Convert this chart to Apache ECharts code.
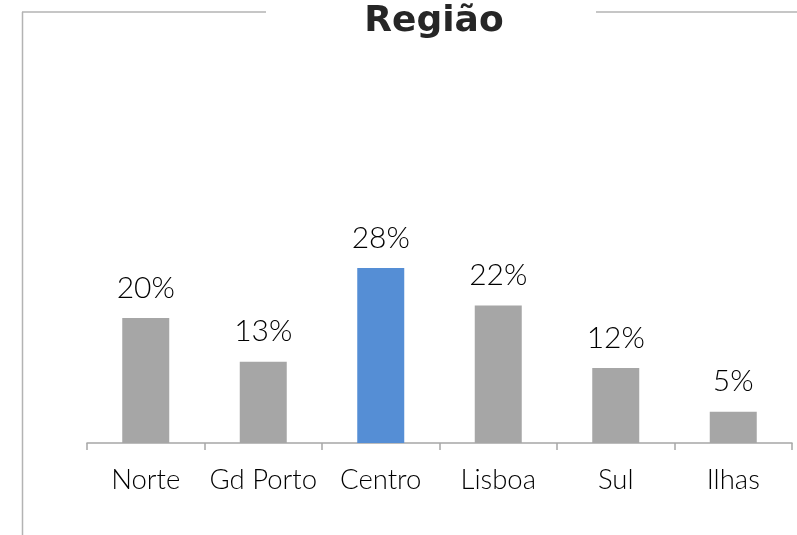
<!DOCTYPE html>
<html>
<head>
<meta charset="utf-8">
<script src="https://cdn.jsdelivr.net/npm/echarts@6/dist/echarts.min.js"></script>
<style>
  html, body { margin: 0; padding: 0; background: #ffffff; }
  #chart { width: 797px; height: 535px; }
</style>
</head>
<body>
<div id="chart"></div>
<script>
// Share of respondents by region (%)
const categories = ['Norte', 'Gd Porto', 'Centro', 'Lisboa', 'Sul', 'Ilhas'];
const shares = [20, 13, 28, 22, 12, 5];
const highlighted = 'Centro';

const GREY = '#a6a6a6';
const BLUE = '#558ed5';
const FRAME = '#b3b3b3';

const chart = echarts.init(document.getElementById('chart'), null, { renderer: 'canvas' });

chart.setOption({
  backgroundColor: '#ffffff',
  animation: false,
  title: {
    text: 'Região',
    left: 429,
    textAlign: 'center',
    top: -1,
    textStyle: {
      fontFamily: 'DejaVu Sans',
      fontWeight: 'bold',
      fontSize: 36,
      color: '#262626'
    }
  },
  // chart-area frame, interrupted where the title sits
  graphic: [
    { type: 'line', shape: { x1: 22.5, y1: 12, x2: 22.5, y2: 535 }, style: { stroke: FRAME, lineWidth: 1.5 } },
    { type: 'line', shape: { x1: 22, y1: 12, x2: 266, y2: 12 }, style: { stroke: FRAME, lineWidth: 1.5 } },
    { type: 'line', shape: { x1: 596, y1: 12, x2: 797, y2: 12 }, style: { stroke: FRAME, lineWidth: 1.5 } }
  ],
  grid: { left: 87, right: 5, top: 193, bottom: 92 },
  xAxis: {
    type: 'category',
    data: categories,
    axisLine: { lineStyle: { color: GREY, width: 1.5 } },
    axisTick: { show: true, length: 7, lineStyle: { color: GREY, width: 1.5 } },
    axisLabel: {
      interval: 0,
      margin: 23,
      fontFamily: 'Lato',
      fontWeight: 300,
      fontSize: 27.5,
      color: '#000000'
    }
  },
  yAxis: {
    type: 'value',
    min: 0,
    max: 40,
    show: false,
    splitLine: { show: false }
  },
  series: [{
    type: 'bar',
    barWidth: '40%',
    data: shares.map((v, i) => ({
      value: v,
      itemStyle: { color: categories[i] === highlighted ? BLUE : GREY }
    })),
    label: {
      show: true,
      position: 'top',
      distance: 15,
      formatter: p => p.value + '%',
      fontFamily: 'Lato',
      fontWeight: 300,
      fontSize: 30,
      color: '#000000'
    }
  }]
});
</script>
</body>
</html>
